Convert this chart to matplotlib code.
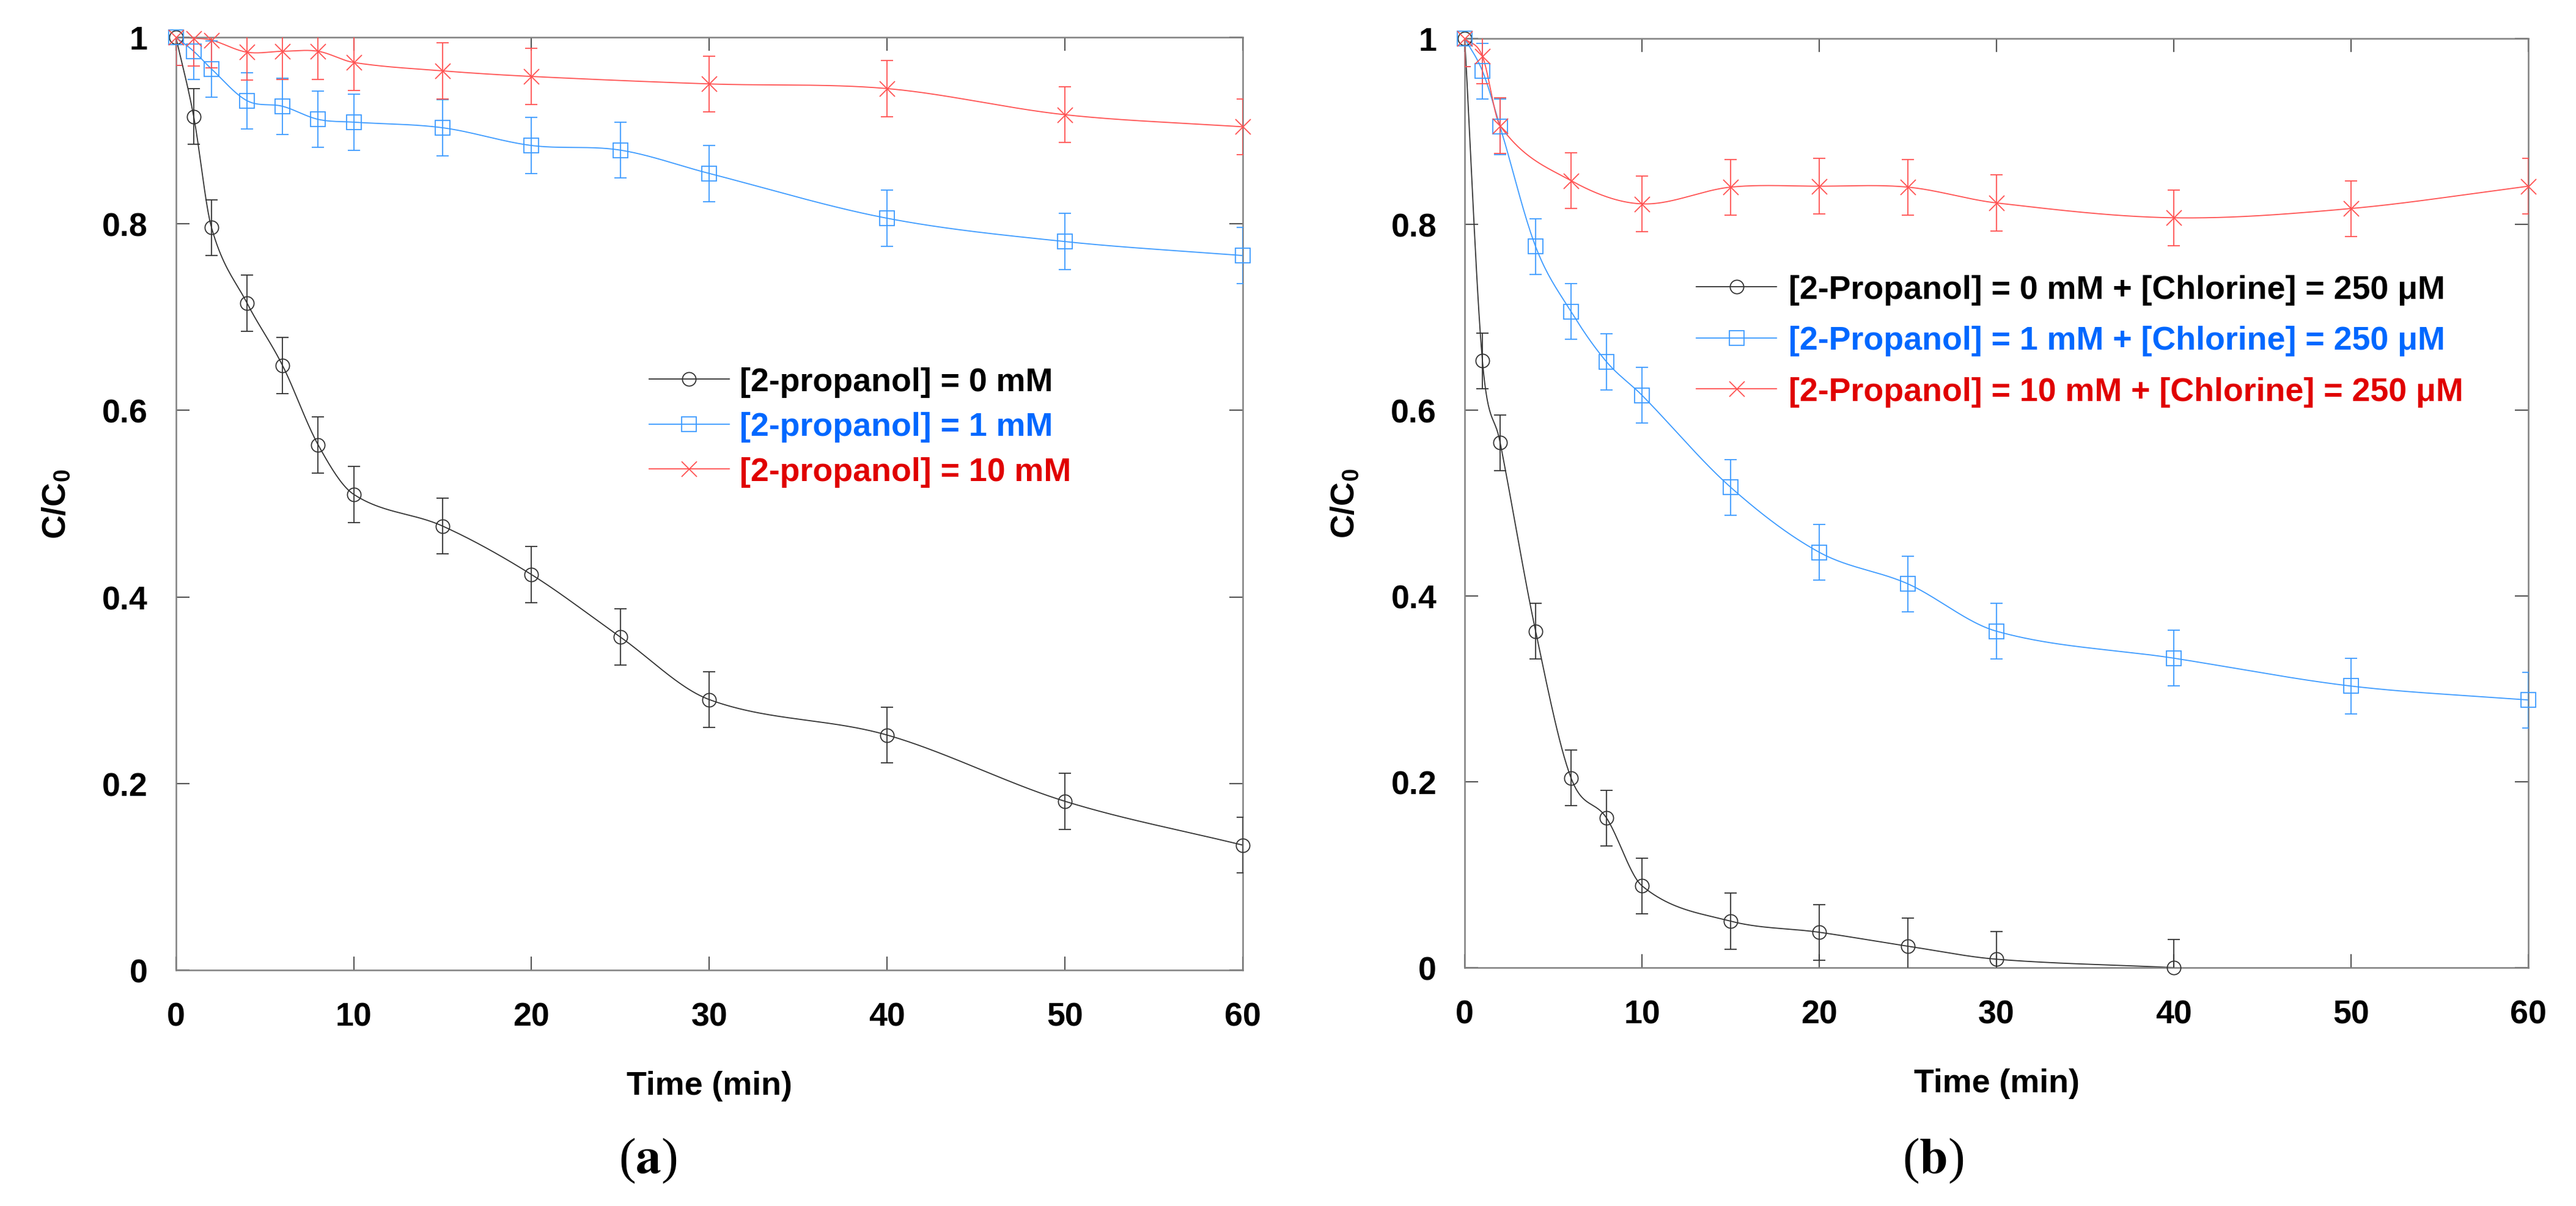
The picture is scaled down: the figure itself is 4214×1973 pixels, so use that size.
import numpy as np
import matplotlib
matplotlib.use("Agg")
import matplotlib.pyplot as plt
from matplotlib.lines import Line2D

plt.rcParams['font.family'] = ['Liberation Sans', 'DejaVu Sans']
plt.rcParams['font.weight'] = 'bold'
plt.rcParams['axes.labelweight'] = 'bold'
plt.rcParams['mathtext.fontset'] = 'custom'
plt.rcParams['mathtext.rm'] = 'Liberation Sans:bold'
plt.rcParams['mathtext.bf'] = 'Liberation Sans:bold'
plt.rcParams['mathtext.it'] = 'Liberation Sans:bold'

# ---- panel (a): 2-propanol only ----
t_a_0 = [0, 1, 2, 4, 6, 8, 10, 15, 20, 25, 30, 40, 50, 60]
c_a_0 = [1.0, 0.915, 0.796, 0.715, 0.648, 0.563, 0.510, 0.476, 0.424, 0.357, 0.290, 0.252, 0.181, 0.134]
e_a_0 = [0.03, 0.03, 0.03, 0.03, 0.03, 0.03, 0.03, 0.03, 0.03, 0.03, 0.03, 0.03, 0.03, 0.03]

t_a_1 = [0, 1, 2, 4, 6, 8, 10, 15, 20, 25, 30, 40, 50, 60]
c_a_1 = [1.0, 0.985, 0.966, 0.932, 0.926, 0.912, 0.909, 0.903, 0.884, 0.879, 0.854, 0.806, 0.781, 0.766]
e_a_1 = [0.03, 0.03, 0.03, 0.03, 0.03, 0.03, 0.03, 0.03, 0.03, 0.03, 0.03, 0.03, 0.03, 0.03]

t_a_10 = [0, 1, 2, 4, 6, 8, 10, 15, 20, 30, 40, 50, 60]
c_a_10 = [1.0, 0.999, 0.997, 0.984, 0.985, 0.985, 0.973, 0.964, 0.958, 0.950, 0.945, 0.917, 0.904]
e_a_10 = [0.03, 0.03, 0.03, 0.03, 0.03, 0.03, 0.03, 0.03, 0.03, 0.03, 0.03, 0.03, 0.03]

labels_a = ["[2-propanol] = 0 mM", "[2-propanol] = 1 mM", "[2-propanol] = 10 mM"]

# ---- panel (b): 2-propanol + chlorine ----
t_b_0 = [0, 1, 2, 4, 6, 8, 10, 15, 20, 25, 30, 40]
c_b_0 = [1.0, 0.653, 0.565, 0.362, 0.204, 0.161, 0.088, 0.050, 0.038, 0.023, 0.009, 0.0]
e_b_0 = [0.03, 0.03, 0.03, 0.03, 0.03, 0.03, 0.03, 0.03, 0.03, 0.03, 0.03, 0.03]

t_b_1 = [0, 1, 2, 4, 6, 8, 10, 15, 20, 25, 30, 40, 50, 60]
c_b_1 = [1.0, 0.965, 0.905, 0.776, 0.706, 0.652, 0.616, 0.517, 0.447, 0.413, 0.362, 0.333, 0.303, 0.288]
e_b_1 = [0.03, 0.03, 0.03, 0.03, 0.03, 0.03, 0.03, 0.03, 0.03, 0.03, 0.03, 0.03, 0.03, 0.03]

t_b_10 = [0, 1, 2, 6, 10, 15, 20, 25, 30, 40, 50, 60]
c_b_10 = [1.0, 0.981, 0.906, 0.847, 0.822, 0.840, 0.841, 0.840, 0.823, 0.807, 0.817, 0.841]
e_b_10 = [0.03, 0.03, 0.03, 0.03, 0.03, 0.03, 0.03, 0.03, 0.03, 0.03, 0.03, 0.03]

labels_b = ["[2-Propanol] = 0 mM + [Chlorine] = 250 μM",
            "[2-Propanol] = 1 mM + [Chlorine] = 250 μM",
            "[2-Propanol] = 10 mM + [Chlorine] = 250 μM"]

tick_y = [0, 0.2, 0.4, 0.6, 0.8, 1]
tick_y_labels = ["0", "0.2", "0.4", "0.6", "0.8", "1"]

line_colors = ["#333333", "#3D9BFF", "#FF5252"]
text_colors = ["#000000", "#0068FF", "#E00000"]
markers = ["o", "s", "x"]
msizes = [16, 17, 18]


def smooth_curve(x, y, num=600):
    # cubic Hermite curve through the points (centred-difference slopes)
    x = np.asarray(x, float)
    y = np.asarray(y, float)
    n = len(x)
    m = np.zeros(n)
    m[0] = (y[1] - y[0]) / (x[1] - x[0])
    m[-1] = (y[-1] - y[-2]) / (x[-1] - x[-2])
    m[1:-1] = (y[2:] - y[:-2]) / (x[2:] - x[:-2])
    xs = np.linspace(x[0], x[-1], num)
    k = np.clip(np.searchsorted(x, xs) - 1, 0, n - 2)
    h = x[k + 1] - x[k]
    s = (xs - x[k]) / h
    h00 = 2 * s ** 3 - 3 * s ** 2 + 1
    h10 = s ** 3 - 2 * s ** 2 + s
    h01 = -2 * s ** 3 + 3 * s ** 2
    h11 = s ** 3 - s ** 2
    ys = h00 * y[k] + h10 * h * m[k] + h01 * y[k + 1] + h11 * h * m[k + 1]
    return xs, ys


def draw_series(ax, t, c, e, color, marker, ms):
    xs, ys = smooth_curve(t, c)
    ax.plot(xs, ys, color=color, lw=1.3, zorder=2)
    ax.errorbar(t, c, yerr=e, fmt='none', ecolor=color, elinewidth=1.3,
                capsize=7, capthick=1.3, zorder=3)
    ax.plot(t, c, linestyle='none', marker=marker, ms=ms, mfc='none',
            mec=color, mew=1.3, clip_on=False, zorder=4)


def style_axes(ax):
    ax.set_xlim(0, 60)
    ax.set_ylim(0, 1)
    ax.set_xticks(range(0, 61, 10))
    ax.set_yticks(tick_y)
    ax.set_yticklabels(tick_y_labels)
    ax.tick_params(direction='in', length=16, width=1.5, color='#555555',
                   top=True, right=True, labelsize=38.7)
    ax.tick_params(axis='x', pad=37)
    ax.tick_params(axis='y', pad=33)
    for sp in ax.spines.values():
        sp.set_color('#808080')
        sp.set_linewidth(1.8)
    ax.set_xlabel("Time (min)", fontsize=38.7, fontweight='bold', labelpad=45)
    ax.set_ylabel("C/C$_{0}$", fontsize=38.7, fontweight='bold', labelpad=36)


fig = plt.figure(figsize=(42.14, 19.74), dpi=100)
ax_a = fig.add_axes([0.0683, 0.1955, 0.4141, 0.7731])
ax_b = fig.add_axes([0.5686, 0.1976, 0.4129, 0.7700])

series_a = [(t_a_0, c_a_0, e_a_0), (t_a_1, c_a_1, e_a_1), (t_a_10, c_a_10, e_a_10)]
series_b = [(t_b_0, c_b_0, e_b_0), (t_b_1, c_b_1, e_b_1), (t_b_10, c_b_10, e_b_10)]

for ax, series, labels, anchor, spacing, tpad in [
        (ax_a, series_a, labels_a, (0.4436, 0.647), 0.44, 0.32),
        (ax_b, series_b, labels_b, (0.218, 0.746), 0.62, 0.37)]:
    for (t, c, e), col, mk, ms in zip(series, line_colors, markers, msizes):
        draw_series(ax, t, c, e, col, mk, ms)
    style_axes(ax)
    handles = [Line2D([], [], color=col, marker=mk, ms=ms, mfc='none', mew=1.3, lw=1.3)
               for col, mk, ms in zip(line_colors, markers, msizes)]
    leg = ax.legend(handles, labels, loc='upper left', bbox_to_anchor=anchor,
                    frameon=False, borderpad=0, borderaxespad=0,
                    handlelength=2.43, handletextpad=tpad, labelspacing=spacing,
                    prop={'family': 'Liberation Sans', 'weight': 'bold', 'size': 38.7})
    for txt, col in zip(leg.get_texts(), text_colors):
        txt.set_color(col)

fig.text(0.2515, 0.038, r"($\mathbf{a}$)", ha='center', va='center', fontsize=60,
         family='Liberation Serif', weight='normal', math_fontfamily='stix')
fig.text(0.7504, 0.038, r"($\mathbf{b}$)", ha='center', va='center', fontsize=60,
         family='Liberation Serif', weight='normal', math_fontfamily='stix')

fig.savefig("out.png", dpi=100)
